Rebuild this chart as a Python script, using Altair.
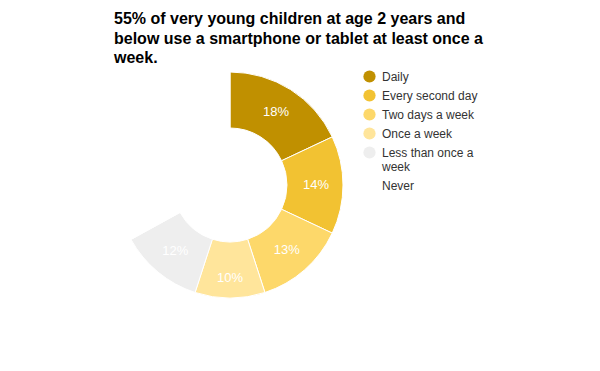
import altair as alt
import pandas as pd

categories = ["Daily", "Every second day", "Two days a week", "Once a week",
              "Less than once a week", "Never"]
values = [18, 14, 13, 10, 12, 33]
labels = ["18%", "14%", "13%", "10%", "12%", ""]
colors = ["#C09000", "#F2C232", "#FDD86A", "#FFE59B", "#EEEEEE", "#FFFFFF"]
title_lines = ["55% of very young children at age 2 years and",
               "below use a smartphone or tablet at least once a",
               "week."]

df = pd.DataFrame({"category": categories, "value": values,
                   "label": labels, "idx": list(range(len(categories)))})

CX, CY = 222, 113

base = alt.Chart(df).encode(
    theta=alt.Theta("value:Q", stack=True),
    order=alt.Order("idx:Q"),
)

arcs = base.mark_arc(innerRadius=57, outerRadius=113, stroke="white", strokeWidth=1).encode(
    color=alt.Color(
        "category:N",
        sort=categories,
        scale=alt.Scale(domain=categories, range=colors),
        legend=alt.Legend(
            title=None, orient="none", legendX=355, legendY=-2,
            symbolType="circle", symbolSize=150, symbolStrokeWidth=0,
            labelFont="Liberation Sans", labelFontSize=12, labelColor="#333333",
            rowPadding=6, labelOffset=6, labelBaseline="middle",
            labelExpr="datum.label == 'Less than once a week' ? ['Less than once a', 'week'] : datum.label",
        ),
    ),
    x=alt.value(CX), y=alt.value(CY),
)

text = base.mark_text(
    radius=alt.expr("datum.category == 'Once a week' ? 93 : 86"),
    color="white", fontSize=13, font="Liberation Sans",
).encode(
    text="label:N", detail="category:N", x=alt.value(CX), y=alt.value(CY),
)

chart = alt.layer(arcs, text).properties(
    width=584, height=291,
    autosize=alt.AutoSizeParams(type="none"),
    padding={"left": 0, "top": 64, "right": 0, "bottom": 0},
    title=alt.TitleParams(
        text=title_lines, anchor="start", frame="group", dx=106,
        font="Liberation Sans", fontSize=16, fontWeight="bold", color="black",
        lineHeight=19.5,
    ),
).configure_view(stroke=None)

chart.save("out.html", embed_options={"renderer": "svg", "actions": False})
